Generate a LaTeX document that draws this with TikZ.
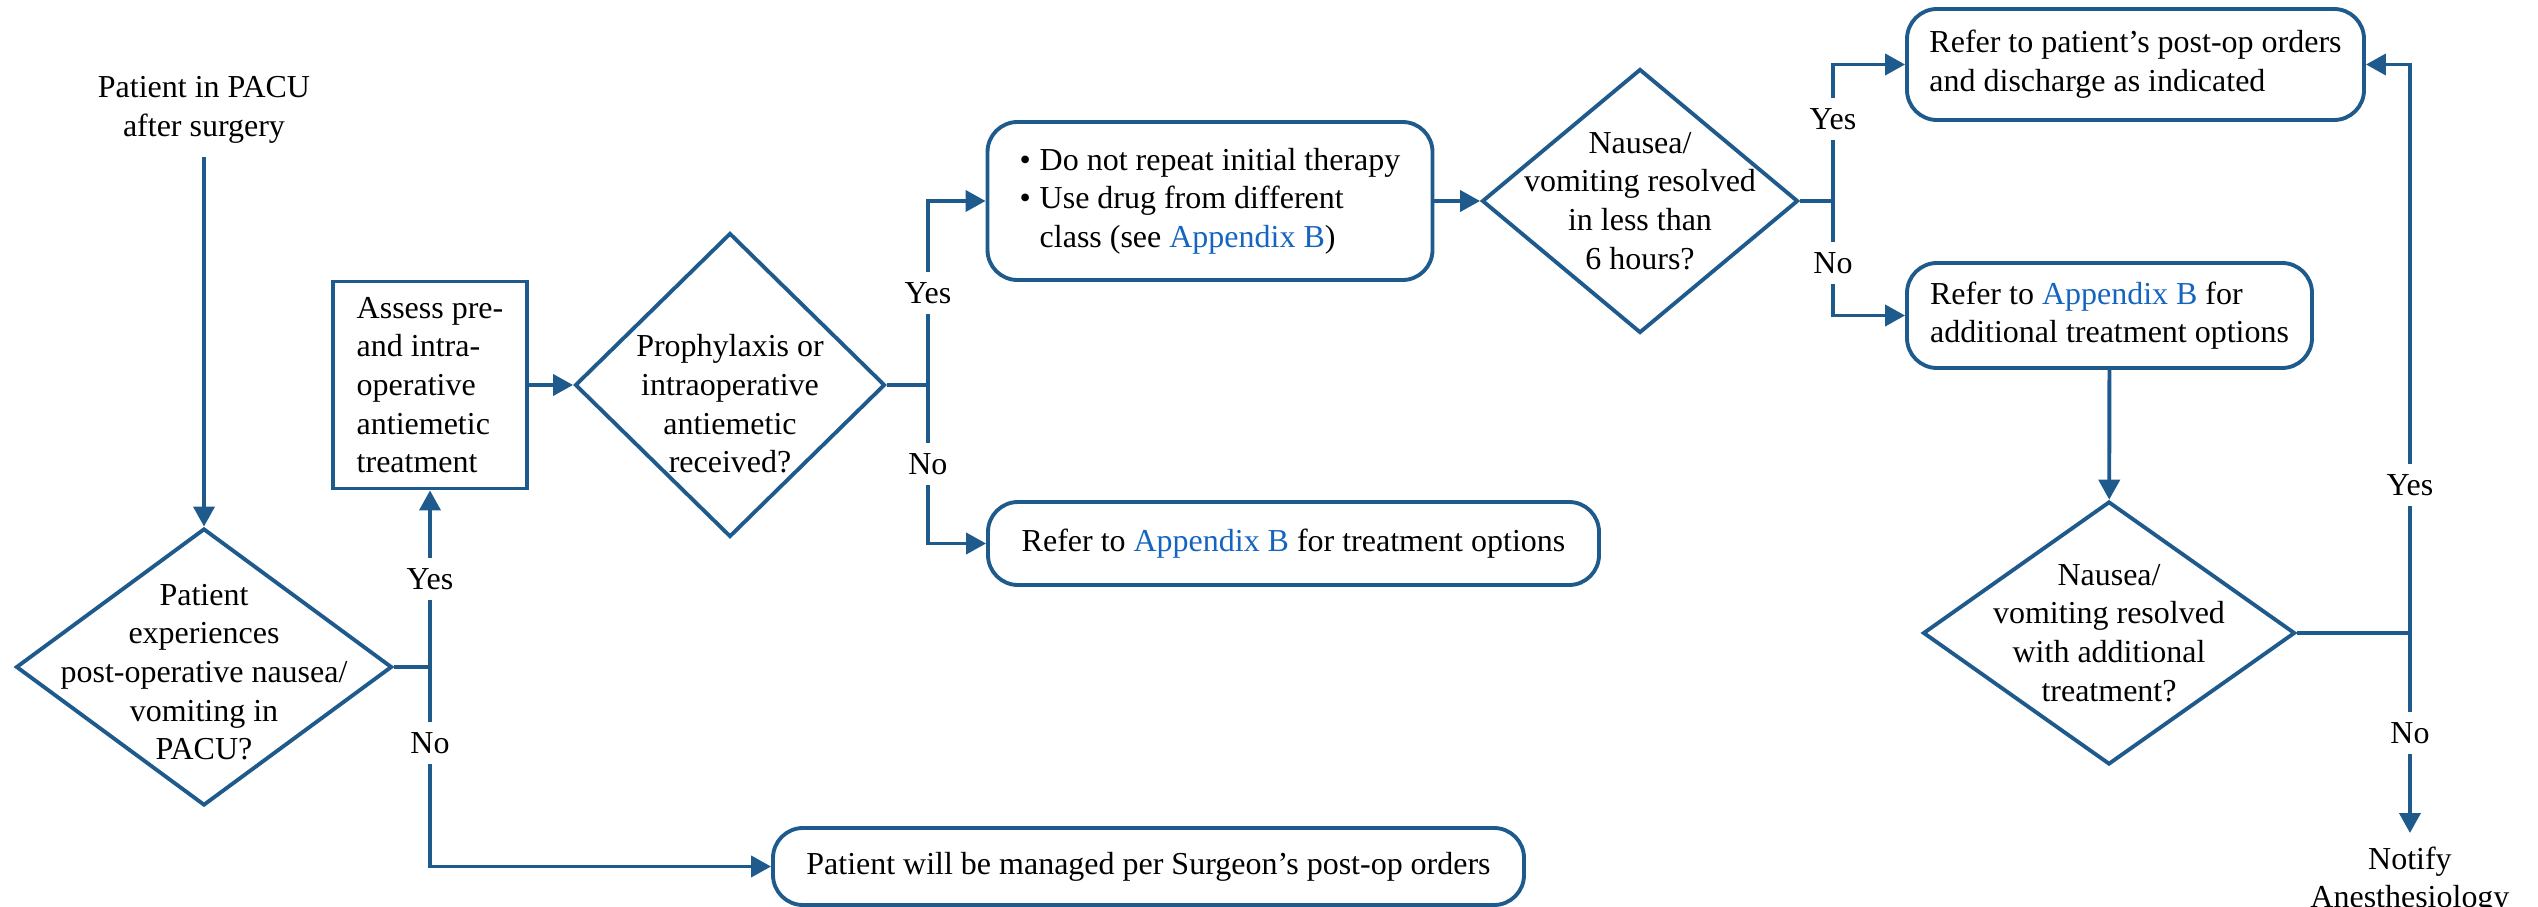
\documentclass[tikz,border=0pt]{standalone}
\usepackage{fontspec}
\setmainfont{Liberation Serif}
\usepackage{xcolor}
\usepackage{tikz}
\usetikzlibrary{positioning,shapes.geometric,arrows.meta}

\definecolor{flowblue}{RGB}{31,90,140}
\definecolor{linkblue}{RGB}{21,101,192}
\newcommand{\appendixb}{\textcolor{linkblue}{Appendix B}}

\begin{document}
\begin{tikzpicture}[font=\fontsize{9.1pt}{11pt}\selectfont, line width=1.1pt,
  conn/.style={draw=flowblue},
  flow/.style={draw=flowblue, -{Triangle[length=0.2cm,width=0.21cm]}},
  decision/.style={diamond, draw=flowblue, inner sep=0pt},
  dtext/.style={align=center, inner sep=0pt},
  process/.style={rectangle, draw=flowblue, align=left},
  terminal/.style={rectangle, rounded corners=0.3cm, draw=flowblue, align=left},
  answer/.style={fill=white, inner sep=3pt}]
\useasboundingbox (0,0) rectangle (25.38,-9.07);

% left part
\node (start) [align=center] at (2.04,-1.10) {Patient in PACU\\after surgery};
\node (d1) [decision, minimum width=3.76cm, minimum height=2.77cm] at (2.04,-6.67) {};
\node (d1t) [dtext] at ([yshift=-0.05cm]d1.center) {Patient\\experiences\\post-operative nausea/\\vomiting in\\PACU?};
\node (assess) [process, minimum width=1.94cm, minimum height=2.07cm] at (4.30,-3.85) {Assess pre-\\and intra-\\operative\\antiemetic\\treatment};
\node (managed) [terminal, minimum width=7.51cm, minimum height=0.77cm] at (11.485,-8.665) {Patient will be managed per Surgeon’s post-op orders};
\coordinate (j1) at (assess.south |- d1.east);

% middle part
\node (d2) [decision, minimum width=3.10cm, minimum height=3.04cm] at (7.30,-3.85) {};
\node (d2t) [dtext] at ([yshift=-0.19cm]d2.center) {Prophylaxis or\\intraoperative\\antiemetic\\received?};
\coordinate [right=0.41cm of d2] (j2);
\node (therapy) [terminal, minimum width=4.45cm, minimum height=1.58cm] at (12.10,-2.01) {\makebox[0.2cm][l]{\textbullet}Do not repeat initial therapy\\\makebox[0.2cm][l]{\textbullet}Use drug from different\\\hspace*{0.2cm}class (see \appendixb)};
\node (refer) [terminal, minimum width=6.11cm, minimum height=0.83cm] at (12.935,-5.435) {Refer to \appendixb{} for treatment options};
\node (d3) [decision, minimum width=3.16cm, minimum height=2.64cm] at (16.40,-2.01) {};
\node (d3t) [dtext] at (d3.center) {Nausea/\\vomiting resolved\\in less than\\6 hours?};
\coordinate [right=0.33cm of d3] (j3);

% right part
\node (post) [terminal, minimum width=4.57cm, minimum height=1.11cm] at (21.355,-0.645) {Refer to patient’s post-op orders\\and discharge as indicated};
\node (addl) [terminal, minimum width=4.05cm, minimum height=1.05cm] at (21.095,-3.155) {Refer to \appendixb{} for\\additional treatment options};
\node (d4) [decision, minimum width=3.72cm, minimum height=2.63cm] at (21.09,-6.33) {};
\node (d4t) [dtext] at (d4.center) {Nausea/\\vomiting resolved\\with additional\\treatment?};
\coordinate [right=1.13cm of d4] (j4);
\node (notify) [below=2cm of j4, align=center] {Notify\\Anesthesiology};

\draw[flow] (start) -- (d1);
\draw[conn] (d1) -- (j1);
\draw[flow] (j1) -- node[answer] {Yes} (assess);
\draw[flow] (j1) |- node[answer, pos=0.19] {No} (managed);
\draw[flow] (assess) -- (d2);
\draw[conn] (d2) -- (j2);
\draw[flow] (j2) |- node[answer, pos=0.25] {Yes} (therapy);
\draw[flow] (j2) |- node[answer, pos=0.25] {No} (refer);
\draw[flow] (therapy) -- (d3);
\draw[conn] (d3) -- (j3);
\draw[flow] (j3) |- node[answer, pos=0.3] {Yes} (post);
\draw[flow] (j3) |- node[answer, pos=0.27] {No} (addl);
\draw[flow] (addl) -- (d4);
\draw[conn] (d4) -- (j4);
\draw[flow] (j4) |- node[answer, pos=0.13] {Yes} (post);
\draw[flow] (j4) -- node[answer] {No} (notify);
\end{tikzpicture}
\end{document}
